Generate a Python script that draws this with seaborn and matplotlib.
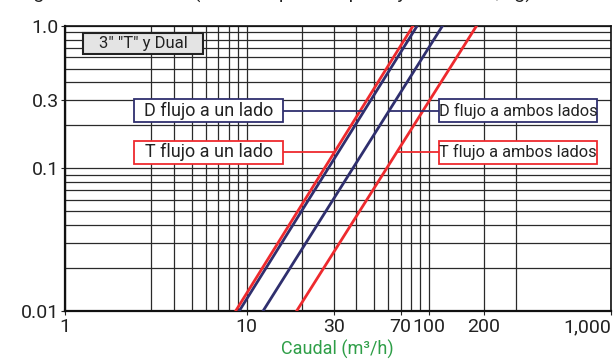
import matplotlib
matplotlib.use("Agg")
import matplotlib.pyplot as plt
import seaborn as sns
import numpy as np
import pandas as pd
from matplotlib.patches import Rectangle
from matplotlib.ticker import FixedLocator, FixedFormatter, NullFormatter

# ---- data ----
series = ["T flujo a un lado", "D flujo a un lado", "D flujo a ambos lados", "T flujo a ambos lados"]
series_colors = ["#ee2a2e", "#2f2f6e", "#2f2f6e", "#ee2a2e"]
caudal_bajo = [8.7, 9.1, 12.3, 18.8]      # m3/h at 0.01
caudal_alto = [82.0, 86.4, 119.0, 183.0]  # m3/h at 1.0
presion = [0.01, 1.0]

x_major = [1, 10, 30, 70, 100, 200, 1000]
x_major_labels = ["1", "10", "30", "70", "100", "200", "1,000"]
x_minor = [3, 4, 5, 6, 7, 8, 9, 20, 40, 50, 60, 80, 90, 300]
y_major = [0.01, 0.1, 0.3, 1.0]
y_major_labels = ["0.01", "0.1", "0.3", "1.0"]
y_minor = [0.02, 0.03, 0.04, 0.05, 0.06, 0.07, 0.08, 0.09, 0.2, 0.4, 0.5, 0.6, 0.7, 0.8, 0.9]

titulo_box = '3" "T" y Dual'
titulo_sup = "Rango de caudal total (caída de presión por ley de caudal, kg)"
eje_x = "Caudal (m³/h)"

rows = []
for s, lo, hi in zip(series, caudal_bajo, caudal_alto):
    rows.append({"serie": s, "caudal": lo, "presion": presion[0]})
    rows.append({"serie": s, "caudal": hi, "presion": presion[1]})
df = pd.DataFrame(rows)

sns.set_theme(style="white")
plt.rcParams["font.family"] = ["Roboto", "DejaVu Sans"]

fig = plt.figure(figsize=(6.15, 3.6), dpi=100)
ax = fig.add_axes([64.5 / 615, 1 - 311 / 360, (611 - 64.5) / 615, (311 - 25.7) / 360])

ax.set_xscale("log")
ax.set_yscale("log")
ax.set_xlim(1, 1000)
ax.set_ylim(0.01, 1.0)

# grid
ax.xaxis.set_major_locator(FixedLocator(x_major))
ax.xaxis.set_major_formatter(FixedFormatter(x_major_labels))
ax.xaxis.set_minor_locator(FixedLocator(x_minor))
ax.xaxis.set_minor_formatter(NullFormatter())
ax.yaxis.set_major_locator(FixedLocator(y_major))
ax.yaxis.set_major_formatter(FixedFormatter(y_major_labels))
ax.yaxis.set_minor_locator(FixedLocator(y_minor))
ax.yaxis.set_minor_formatter(NullFormatter())
ax.grid(True, which="both", color="#2a2a2a", linewidth=0.9)
ax.set_axisbelow(True)

ax.tick_params(axis="both", which="major", length=3, width=0.8, color="#222",
               labelsize=14, labelcolor="#222", direction="out",
               bottom=True, left=True)
ax.tick_params(axis="x", which="major", pad=2)
ax.tick_params(axis="y", which="major", pad=1)
ax.tick_params(axis="both", which="minor", length=0)
xt = ax.get_xticklabels()
xt[-1].set_horizontalalignment("right")
for sp in ax.spines.values():
    sp.set_color("#111")
    sp.set_linewidth(1.2)
ax.spines["left"].set_linewidth(1.6)
ax.spines["bottom"].set_linewidth(1.6)

# lines (navy first, red on top)
order = [1, 2, 0, 3]
for i in order:
    sub = df[df["serie"] == series[i]]
    sns.lineplot(data=sub, x="caudal", y="presion", ax=ax, color=series_colors[i],
                 linewidth=2.0, legend=False, zorder=3)

# label boxes (axes fractions) with connectors
box_x0 = [0.1272, 0.1272, 0.6858, 0.6858]
box_x1 = [0.3998, 0.3998, 0.9749, 0.9749]
box_y0 = [0.5153, 0.6614, 0.6614, 0.5153]
box_y1 = [0.5969, 0.7431, 0.7431, 0.5969]
box_fs = [13, 13, 11.8, 11.8]
for i, s in enumerate(series):
    yc = (box_y0[i] + box_y1[i]) / 2
    ly = 10 ** (-2 + 2 * yc)
    slope = (np.log10(caudal_alto[i]) - np.log10(caudal_bajo[i])) / 2.0
    xi = 10 ** (np.log10(caudal_bajo[i]) + (np.log10(ly) + 2) * slope)
    right_side = box_x0[i] > 0.5
    edge = box_x0[i] if right_side else box_x1[i]
    xe = 10 ** (3 * edge)
    ax.plot([xe, xi], [ly, ly], color=series_colors[i], lw=1.3, zorder=4,
            solid_capstyle="butt")
    ax.add_patch(Rectangle((box_x0[i], box_y0[i]), box_x1[i] - box_x0[i],
                           box_y1[i] - box_y0[i], transform=ax.transAxes,
                           fc="white", ec=series_colors[i], lw=1.3, zorder=5))
    ax.text((box_x0[i] + box_x1[i]) / 2, yc, s, transform=ax.transAxes,
            ha="center", va="center", fontsize=box_fs[i], color="#222", zorder=6)

ax.add_patch(Rectangle((0.0333, 0.8998), 0.2207, 0.0736, transform=ax.transAxes,
                       fc="#e4e4e4", ec="#222", lw=1.5, zorder=5))
ax.text(0.1436, 0.9366, titulo_box, transform=ax.transAxes, ha="center", va="center",
        fontsize=12, color="#222", zorder=6)

ax.set_xlabel(eje_x, color="#2e9e47", fontsize=13, labelpad=3)
ax.set_ylabel("")

fig.text(0.0, 1 + 1.5 / 360, titulo_sup, ha="left", va="baseline", fontsize=14, color="#222")

fig.savefig("out.png", dpi=100)
